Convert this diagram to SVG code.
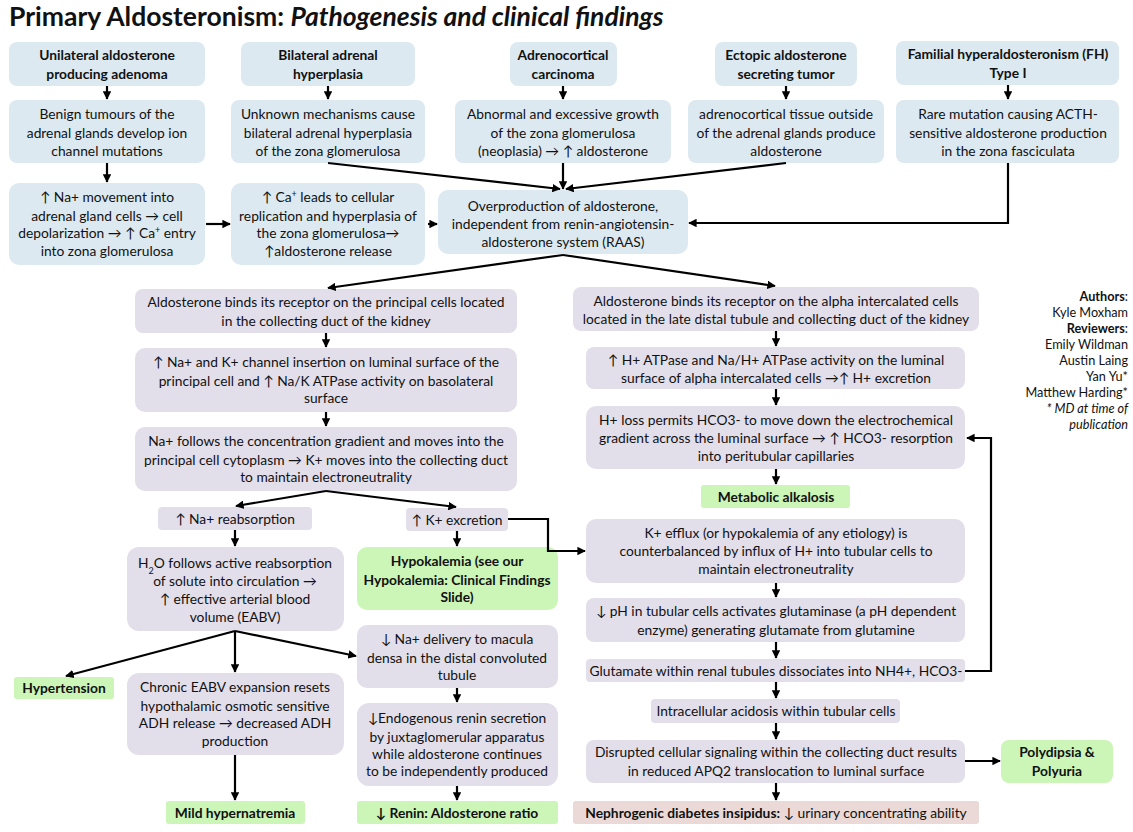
<svg xmlns="http://www.w3.org/2000/svg" width="1133" height="832" viewBox="0 0 1133 832">
<defs>
<marker id="ah" viewBox="0 0 10 10" refX="9" refY="5" markerWidth="8.5" markerHeight="8.5" markerUnits="userSpaceOnUse" orient="auto">
<path d="M0,0 L10,5 L0,10 z" fill="#000"/>
</marker>
<style>
.bl{fill:#DCE9F1}
.pu{fill:#E2DFEB}
.gr{fill:#CCF5B8}
.pk{fill:#EAD9D6}
text{font-family:Lato,"Liberation Sans",sans-serif;font-size:13.8px;fill:#111;text-anchor:middle}
.b{font-weight:bold}
.au{font-size:12.7px;text-anchor:end}
.c line,.c path{stroke:#000;stroke-width:2.2;fill:none;marker-end:url(#ah)}
</style>
</defs>
<rect width="1133" height="832" fill="#fff"/>
<text x="9" y="26" style="font-size:26.5px;text-anchor:start;font-weight:bold">Primary Aldosteronism: <tspan font-style="italic">Pathogenesis and clinical findings</tspan></text>

<g id="n-unilateral"><rect class="bl" x="9" y="42" width="196" height="44" rx="8"/><text class="b" x="107" y="60">Unilateral aldosterone</text><text class="b" x="107" y="79">producing adenoma</text></g>
<g id="n-bilateral"><rect class="bl" x="241" y="42" width="174" height="44" rx="8"/><text class="b" x="328" y="60">Bilateral adrenal</text><text class="b" x="328" y="79">hyperplasia</text></g>
<g id="n-carcinoma"><rect class="bl" x="510" y="42" width="107" height="44" rx="8"/><text class="b" x="563" y="60">Adrenocortical</text><text class="b" x="563" y="79">carcinoma</text></g>
<g id="n-ectopic"><rect class="bl" x="715" y="42" width="142" height="44" rx="8"/><text class="b" x="786" y="60">Ectopic aldosterone</text><text class="b" x="786" y="79">secreting tumor</text></g>
<g id="n-familial"><rect class="bl" x="896" y="41" width="223" height="44" rx="8"/><text class="b" x="1008" y="59">Familial hyperaldosteronism (FH)</text><text class="b" x="1008" y="78">Type I</text></g>

<g id="n-benign"><rect class="bl" x="9" y="100" width="196" height="63" rx="8"/><text x="107" y="119">Benign tumours of the</text><text x="107" y="138">adrenal glands develop ion</text><text x="107" y="156">channel mutations</text></g>
<g id="n-unknown"><rect class="bl" x="231" y="100" width="194" height="63" rx="8"/><text x="328" y="119">Unknown mechanisms cause</text><text x="328" y="138">bilateral adrenal hyperplasia</text><text x="328" y="156">of the zona glomerulosa</text></g>
<g id="n-abnormal"><rect class="bl" x="455" y="100" width="216" height="63" rx="8"/><text x="563" y="119">Abnormal and excessive growth</text><text x="563" y="138">of the zona glomerulosa</text><text x="563" y="156">(neoplasia) → ↑ aldosterone</text></g>
<g id="n-outside"><rect class="bl" x="688" y="100" width="196" height="63" rx="8"/><text x="786" y="119">adrenocortical tissue outside</text><text x="786" y="138">of the adrenal glands produce</text><text x="786" y="156">aldosterone</text></g>
<g id="n-rare"><rect class="bl" x="896" y="100" width="223" height="63" rx="8"/><text x="1008" y="119">Rare mutation causing ACTH-</text><text x="1008" y="138">sensitive aldosterone production</text><text x="1008" y="156">in the zona fasciculata</text></g>

<g id="n-na-move"><rect class="bl" x="9" y="183" width="196" height="82" rx="10"/><text x="107" y="202">↑ Na+ movement into</text><text x="107" y="221">adrenal gland cells → cell</text><text x="107" y="238">depolarization → ↑ Ca<tspan font-size="9" baseline-shift="super">+</tspan> entry</text><text x="107" y="256">into zona glomerulosa</text></g>
<g id="n-ca"><rect class="bl" x="231" y="183" width="194" height="82" rx="10"/><text x="328" y="202">↑ Ca<tspan font-size="9" baseline-shift="super">+</tspan> leads to cellular</text><text x="328" y="221">replication and hyperplasia of</text><text x="328" y="238">the zona glomerulosa→</text><text x="328" y="256">↑aldosterone release</text></g>
<g id="n-overproduction"><rect class="bl" x="438" y="190" width="250" height="64" rx="10"/><text x="563" y="211">Overproduction of aldosterone,</text><text x="563" y="229">independent from renin-angiotensin-</text><text x="563" y="247">aldosterone system (RAAS)</text></g>

<g id="n-principal"><rect class="pu" x="135" y="289" width="382" height="44" rx="8"/><text x="326" y="307">Aldosterone binds its receptor on the principal cells located</text><text x="326" y="326">in the collecting duct of the kidney</text></g>
<g id="n-channel"><rect class="pu" x="135" y="348" width="382" height="64" rx="10"/><text x="326" y="367">↑ Na+ and K+ channel insertion on luminal surface of the</text><text x="326" y="386">principal cell and ↑ Na/K ATPase activity on basolateral</text><text x="326" y="403">surface</text></g>
<g id="n-gradient"><rect class="pu" x="135" y="427" width="382" height="64" rx="10"/><text x="326" y="446">Na+ follows the concentration gradient and moves into the</text><text x="326" y="465">principal cell cytoplasm → K+ moves into the collecting duct</text><text x="326" y="482">to maintain electroneutrality</text></g>
<g id="n-na-reabs"><rect class="pu" x="158" y="507" width="154" height="23" rx="4"/><text x="235" y="523.5">↑ Na+ reabsorption</text></g>
<g id="n-k-exc"><rect class="pu" x="406" y="508" width="102" height="23" rx="4"/><text x="457" y="524.5">↑ K+ excretion</text></g>
<g id="n-h2o"><rect class="pu" x="127" y="547" width="217" height="84" rx="12"/><text x="235" y="568">H<tspan font-size="9" baseline-shift="sub">2</tspan>O follows active reabsorption</text><text x="235" y="586">of solute into circulation →</text><text x="235" y="604">↑ effective arterial blood</text><text x="235" y="622">volume (EABV)</text></g>
<g id="n-hypokalemia"><rect class="gr" x="357" y="547" width="201" height="63" rx="10"/><text class="b" x="457" y="566">Hypokalemia (see our</text><text class="b" x="457" y="585">Hypokalemia: Clinical Findings</text><text class="b" x="457" y="602">Slide)</text></g>
<g id="n-hypertension"><rect class="gr" x="14" y="677" width="100" height="22" rx="3"/><text class="b" x="64" y="693">Hypertension</text></g>
<g id="n-chronic"><rect class="pu" x="127" y="673" width="217" height="82" rx="12"/><text x="235" y="692">Chronic EABV expansion resets</text><text x="235" y="711">hypothalamic osmotic sensitive</text><text x="235" y="728">ADH release → decreased ADH</text><text x="235" y="746">production</text></g>
<g id="n-mild"><rect class="gr" x="166" y="801" width="139" height="23" rx="3"/><text class="b" x="235" y="817.5">Mild hypernatremia</text></g>
<g id="n-na-deliv"><rect class="pu" x="357" y="625" width="201" height="63" rx="10"/><text x="457" y="644">↓ Na+ delivery to macula</text><text x="457" y="663">densa in the distal convoluted</text><text x="457" y="680">tubule</text></g>
<g id="n-endog"><rect class="pu" x="357" y="703" width="201" height="83" rx="12"/><text x="457" y="723">↓Endogenous renin secretion</text><text x="457" y="742">by juxtaglomerular apparatus</text><text x="457" y="759">while aldosterone continues</text><text x="457" y="776">to be independently produced</text></g>
<g id="n-renin"><rect class="gr" x="357" y="801" width="201" height="23" rx="3"/><text class="b" x="457" y="817.5">↓ Renin: Aldosterone ratio</text></g>

<g id="n-alpha"><rect class="pu" x="573" y="287" width="406" height="44" rx="8"/><text x="776" y="306">Aldosterone binds its receptor on the alpha intercalated cells</text><text x="776" y="324">located in the late distal tubule and collecting duct of the kidney</text></g>
<g id="n-atpase"><rect class="pu" x="586" y="347" width="379" height="42" rx="8"/><text x="776" y="365">↑ H+ ATPase and Na/H+ ATPase activity on the luminal</text><text x="776" y="383">surface of alpha intercalated cells →↑ H+ excretion</text></g>
<g id="n-hloss"><rect class="pu" x="586" y="406" width="379" height="63" rx="10"/><text x="776" y="425">H+ loss permits HCO3- to move down the electrochemical</text><text x="776" y="443">gradient across the luminal surface → ↑ HCO3- resorption</text><text x="776" y="461">into peritubular capillaries</text></g>
<g id="n-metalk"><rect class="gr" x="701" y="485" width="149" height="23" rx="3"/><text class="b" x="776" y="501.5">Metabolic alkalosis</text></g>
<g id="n-kefflux"><rect class="pu" x="586" y="519" width="379" height="64" rx="10"/><text x="776" y="538">K+ efflux (or hypokalemia of any etiology) is</text><text x="776" y="556">counterbalanced by influx of H+ into tubular cells to</text><text x="776" y="574">maintain electroneutrality</text></g>
<g id="n-ph"><rect class="pu" x="586" y="598" width="379" height="44" rx="8"/><text x="776" y="616">↓ pH in tubular cells activates glutaminase (a pH dependent</text><text x="776" y="635">enzyme) generating glutamate from glutamine</text></g>
<g id="n-glutamate"><rect class="pu" x="586" y="659" width="379" height="23" rx="4"/><text x="776" y="676">Glutamate within renal tubules dissociates into NH4+, HCO3-</text></g>
<g id="n-intra"><rect class="pu" x="651" y="699" width="249" height="24" rx="4"/><text x="776" y="716">Intracellular acidosis within tubular cells</text></g>
<g id="n-disrupted"><rect class="pu" x="586" y="740" width="379" height="43" rx="8"/><text x="776" y="757">Disrupted cellular signaling within the collecting duct results</text><text x="776" y="776">in reduced APQ2 translocation to luminal surface</text></g>
<g id="n-poly"><rect class="gr" x="1001" y="740" width="112" height="43" rx="8"/><text class="b" x="1057" y="757">Polydipsia &amp;</text><text class="b" x="1057" y="776">Polyuria</text></g>
<g id="n-nephro"><rect class="pk" x="573" y="801" width="406" height="23" rx="3"/><text x="776" y="817.5"><tspan font-weight="bold">Nephrogenic diabetes insipidus:</tspan> ↓ urinary concentrating ability</text></g>

<g id="authors">
<text class="au" x="1128" y="301"><tspan font-weight="bold">Authors</tspan>:</text>
<text class="au" x="1128" y="317">Kyle Moxham</text>
<text class="au" x="1128" y="333"><tspan font-weight="bold">Reviewers</tspan>:</text>
<text class="au" x="1128" y="349">Emily Wildman</text>
<text class="au" x="1128" y="365">Austin Laing</text>
<text class="au" x="1128" y="381">Yan Yu*</text>
<text class="au" x="1128" y="397">Matthew Harding*</text>
<text class="au" x="1128" y="413" font-style="italic">* MD at time of</text>
<text class="au" x="1128" y="429" font-style="italic">publication</text>
</g>

<g id="connectors" class="c">
<line x1="107" y1="86" x2="107" y2="99"/>
<line x1="328" y1="86" x2="328" y2="99"/>
<line x1="563" y1="86" x2="563" y2="99"/>
<line x1="786" y1="86" x2="786" y2="99"/>
<line x1="1008" y1="85" x2="1008" y2="99"/>
<line x1="107" y1="163" x2="107" y2="182"/>
<line x1="206" y1="224" x2="230" y2="224"/>
<line x1="428" y1="224" x2="437" y2="224"/>
<line x1="328" y1="163" x2="560" y2="189"/>
<line x1="563" y1="163" x2="563" y2="189"/>
<line x1="786" y1="163" x2="566" y2="189"/>
<path d="M1008,163 V223 H689"/>
<line x1="563" y1="255" x2="328" y2="288"/>
<line x1="563" y1="255" x2="775" y2="286"/>
<line x1="326" y1="333" x2="326" y2="347"/>
<line x1="326" y1="412" x2="326" y2="426"/>
<line x1="326" y1="491" x2="236" y2="506"/>
<line x1="326" y1="491" x2="456" y2="507"/>
<path d="M508,519 H548 V551 H585"/>
<line x1="235" y1="530" x2="235" y2="546"/>
<line x1="457" y1="531" x2="457" y2="546"/>
<line x1="235" y1="631" x2="66" y2="676"/>
<line x1="235" y1="631" x2="235" y2="672"/>
<line x1="235" y1="631" x2="356" y2="656"/>
<line x1="235" y1="755" x2="235" y2="800"/>
<line x1="457" y1="688" x2="457" y2="702"/>
<line x1="457" y1="786" x2="457" y2="800"/>
<line x1="776" y1="331" x2="776" y2="346"/>
<line x1="776" y1="389" x2="776" y2="405"/>
<line x1="776" y1="469" x2="776" y2="484"/>
<line x1="776" y1="583" x2="776" y2="597"/>
<line x1="776" y1="642" x2="776" y2="658"/>
<path d="M965,671 H991 V438 H967"/>
<line x1="776" y1="682" x2="776" y2="698"/>
<line x1="776" y1="723" x2="776" y2="739"/>
<line x1="965" y1="761" x2="1000" y2="761"/>
<line x1="776" y1="783" x2="776" y2="800"/>
</g>
</svg>
